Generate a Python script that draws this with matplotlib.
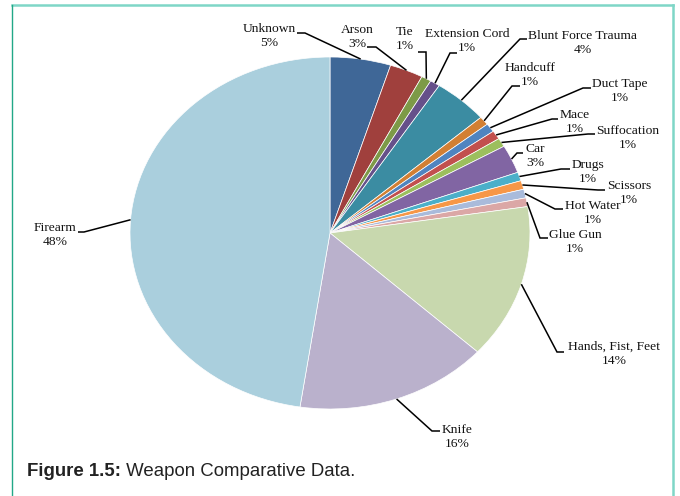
import matplotlib
matplotlib.use("Agg")
import matplotlib.pyplot as plt
from matplotlib.lines import Line2D
import numpy as np

# ---- data ----
categories = ["Unknown", "Arson", "Tie", "Extension Cord", "Blunt Force Trauma",
              "Handcuff", "Duct Tape", "Mace", "Suffocation", "Car", "Drugs",
              "Scissors", "Hot Water", "Glue Gun", "Hands, Fist, Feet", "Knife",
              "Firearm"]
values = [4.9, 2.7, 0.8, 0.8, 4.4, 0.8, 0.8, 0.8, 0.8, 2.6, 0.8, 0.8, 0.8, 0.8,
          14.2, 15.6, 47.6]
colors = ["#3F6797", "#A0403D", "#7D9A47", "#66508A", "#3B8CA2",
          "#D27F33", "#4F84C0", "#C2504E", "#9CBF5D", "#8165A3", "#4BAFC9",
          "#F79747", "#A9BBDB", "#DBA7A6", "#C8D8AE", "#BAB1CC", "#AACFDD"]
caption_bold = "Figure 1.5:"
caption_text = " Weapon Comparative Data."

# ---- layout (pixel coords: text centre, elbow point, line end at label) ----
label_layout = {
    "Unknown":            ((269, 36), (305, 33), (297, 33)),
    "Arson":              ((357, 37), (376, 47), (367, 47)),
    "Tie":                ((405, 39), (426, 52), (418, 52)),
    "Extension Cord":     ((467, 41), (450, 53), (457, 53)),
    "Blunt Force Trauma": ((583, 43), (520, 39), (527, 39)),
    "Handcuff":           ((530, 75), (512, 86), (520, 86)),
    "Duct Tape":          ((620, 91), (583, 88), (591, 88)),
    "Mace":               ((575, 122), (552, 119), (558, 119)),
    "Suffocation":        ((628, 138), (588, 134), (595, 134)),
    "Car":                ((535, 156), (517, 153), (523, 153)),
    "Drugs":              ((588, 172), (561, 169), (570, 169)),
    "Scissors":           ((629, 193), (598, 190), (605, 190)),
    "Hot Water":          ((593, 213), (555, 209), (563, 209)),
    "Glue Gun":           ((575, 242), (540, 238), (548, 238)),
    "Hands, Fist, Feet":  ((614, 354), (557, 352), (564, 352)),
    "Knife":              ((457, 437), (432, 431), (440, 431)),
    "Firearm":            ((55, 235), (84, 232), (78, 232)),
}

W, H = 680, 496
fig = plt.figure(figsize=(W / 100, H / 100), dpi=100)
fig.patch.set_facecolor("white")

# pie axes spanning the (elliptical) pie box
cx, cy, rx, ry = 330, 233, 200, 176
ax = fig.add_axes([(cx - rx) / W, 1 - (cy + ry) / H, 2 * rx / W, 2 * ry / H])
wedges, _ = ax.pie(values, colors=colors, startangle=90, counterclock=False,
                   wedgeprops=dict(edgecolor="white", linewidth=0.5))
ax.set_xlim(-1, 1)
ax.set_ylim(-1, 1)
ax.set_aspect("auto")
ax.axis("off")

# overlay axes in pixel coordinates
ov = fig.add_axes([0, 0, 1, 1], facecolor="none")
ov.set_xlim(0, W)
ov.set_ylim(H, 0)
ov.axis("off")

serif = ["Liberation Serif", "DejaVu Serif"]
total = sum(values)
for w, name, v in zip(wedges, categories, values):
    (tx, ty), (ex, ey), (lx, ly) = label_layout[name]
    mid = np.deg2rad((w.theta1 + w.theta2) / 2)
    disp = ax.transData.transform((np.cos(mid), np.sin(mid)))
    px, py = ov.transData.inverted().transform(disp)
    ov.plot([px, ex, lx], [py, ey, ly], color="black", lw=1.1,
            solid_capstyle="butt", solid_joinstyle="miter")
    pct = int(round(v / total * 100))
    ov.text(tx, ty, f"{name}\n{pct}%", ha="center", va="center",
            family=serif, fontsize=9.7, linespacing=1.3, color="#111111")

# caption
sans = ["Liberation Sans", "DejaVu Sans"]
t1 = ov.text(27, 476, caption_bold, ha="left", va="baseline", family=sans,
             fontsize=13.4, fontweight="bold", color="#222222")
fig.canvas.draw()
bb = t1.get_window_extent(fig.canvas.get_renderer())
x_end = ov.transData.inverted().transform((bb.x1, bb.y0))[0]
ov.text(x_end, 476, caption_text, ha="left", va="baseline", family=sans,
        fontsize=13.4, color="#222222")

# frame lines
fig.add_artist(Line2D([11.5 / W, 673 / W], [1 - 5 / H, 1 - 5 / H],
                      transform=fig.transFigure, color="#7FD6C7", lw=1.8))
fig.add_artist(Line2D([11.5 / W, 11.5 / W], [1 - 4.5 / H, 0],
                      transform=fig.transFigure, color="#22A887", lw=1.0))
fig.add_artist(Line2D([673 / W, 673 / W], [1 - 4.5 / H, 0],
                      transform=fig.transFigure, color="#7FD6C7", lw=1.8))

fig.savefig("out.png", dpi=100, facecolor="white")
